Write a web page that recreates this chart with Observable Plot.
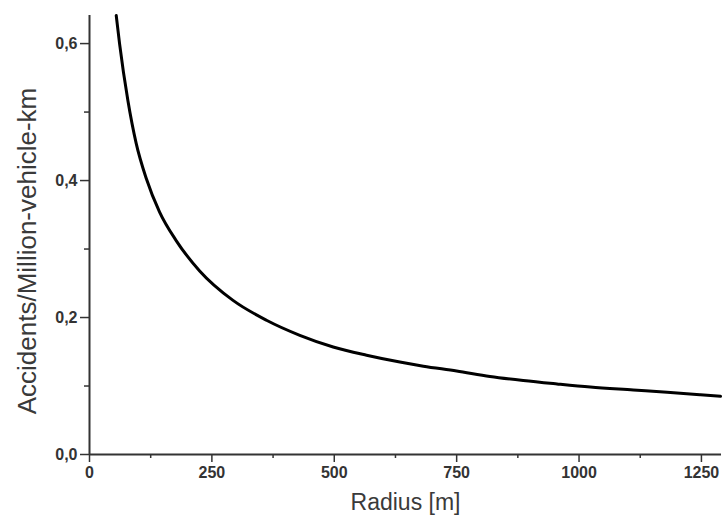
<!DOCTYPE html>
<html>
<head>
<meta charset="utf-8">
<script src="https://cdn.jsdelivr.net/npm/d3@7"></script>
<script src="https://cdn.jsdelivr.net/npm/@observablehq/plot@0.6"></script>
<style>
  html, body { margin: 0; padding: 0; background: #fff; }
  #chart svg { display: block; font-family: "Liberation Sans", Arial, sans-serif; }
</style>
</head>
<body>
<div id="chart"></div>
<script>
// Curve
const radius = [54.6, 61.4, 78.4, 95.5, 116, 143.2, 177.4, 225, 293.2, 361.5, 429.6, 497.7, 566, 634, 682, 750, 818, 886, 955, 1023, 1111, 1180, 1248, 1289];
const rate   = [0.641, 0.600, 0.517, 0.454, 0.403, 0.354, 0.312, 0.268, 0.225, 0.196, 0.174, 0.157, 0.145, 0.135, 0.129, 0.122, 0.114, 0.108, 0.103, 0.0985, 0.0942, 0.0908, 0.0872, 0.085];

const xMajorTicks = [0, 250, 500, 750, 1000, 1250];
const xMinorTicks = [125, 375, 625, 875, 1125];
const yMajorTicks = [0, 0.2, 0.4, 0.6];
const yMinorTicks = [0.1, 0.3, 0.5];
const xLabel = "Radius [m]";
const yLabel = "Accidents/Million-vehicle-km";

const data = radius.map((r, i) => ({r, v: rate[i]}));
const fmt = d => d.toFixed(1).replace(".", ",");
const axisColor = "#333";

const chart = Plot.plot({
  width: 726,
  height: 525,
  marginLeft: 89,
  marginRight: 5,
  marginTop: 15,
  marginBottom: 71,
  x: {domain: [0, 1291]},
  y: {domain: [0, 0.641]},
  style: {fontFamily: "'Liberation Sans', Arial, sans-serif", color: axisColor},
  marks: [
    Plot.axisX({ticks: xMajorTicks, tickSize: 8, tickPadding: 4, tickFormat: d => String(d), fontSize: 16, fontWeight: "bold", stroke: axisColor, strokeWidth: 1.5, label: null, fill: axisColor}),
    Plot.axisX({ticks: xMinorTicks, tickSize: 4, text: null, stroke: axisColor, strokeWidth: 1.5, label: null}),
    Plot.axisY({ticks: yMajorTicks, tickSize: 9, tickPadding: 3, tickFormat: fmt, fontSize: 16, fontWeight: "bold", stroke: axisColor, strokeWidth: 1.5, label: null, fill: axisColor}),
    Plot.axisY({ticks: yMinorTicks, tickSize: 5, text: null, stroke: axisColor, strokeWidth: 1.5, label: null}),
    Plot.ruleY([0], {stroke: axisColor, strokeWidth: 2}),
    Plot.ruleX([0], {stroke: axisColor, strokeWidth: 2}),
    Plot.line(data, {x: "r", y: "v", stroke: "#000", strokeWidth: 3, curve: "monotone-x"}),
    Plot.text([xLabel], {frameAnchor: "bottom", dy: 55, fontSize: 23, fill: "#3a3a3a"}),
    Plot.text([yLabel], {frameAnchor: "left", textAnchor: "middle", dx: -62, dy: 16, rotate: -90, fontSize: 26, fill: "#3a3a3a"})
  ]
});
document.getElementById("chart").appendChild(chart);
</script>
</body>
</html>
